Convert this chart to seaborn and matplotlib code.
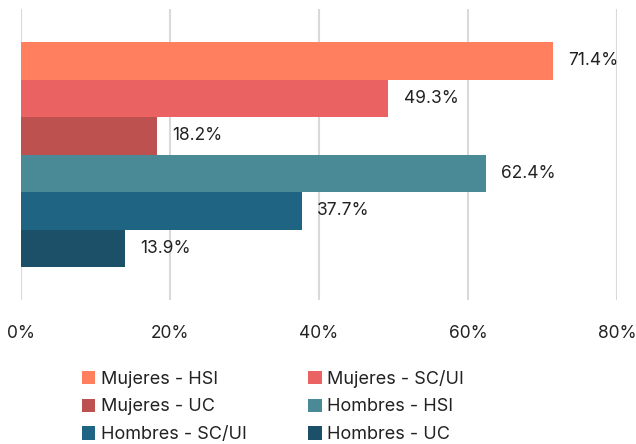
import pandas as pd
import matplotlib.pyplot as plt
import seaborn as sns

# datos
series = ['Mujeres - HSI', 'Mujeres - SC/UI', 'Mujeres - UC',
          'Hombres - HSI', 'Hombres - SC/UI', 'Hombres - UC']
valores = [71.4, 49.3, 18.2, 62.4, 37.7, 13.9]
colores = ['#FF7F5F', '#EB6262', '#BC5150', '#4A8A96', '#1F6482', '#1C5069']
ticks = [0, 20, 40, 60, 80]

df = pd.DataFrame({'grupo': ['total'] * len(series), 'serie': series, 'valor': valores})

sns.set_style('white')
plt.rcParams['font.family'] = ['Inter', 'DejaVu Sans']

fig = plt.figure(figsize=(6.36, 4.44), dpi=100)
ax = fig.add_axes([0.033, 0.324, 0.937, 0.655])

sns.barplot(data=df, x='valor', y='grupo', hue='serie', hue_order=series,
            palette=colores, orient='h', width=0.8, gap=0, saturation=1,
            linewidth=0, edgecolor='none', legend=True, ax=ax)

for cont in ax.containers:
    ax.bar_label(cont, fmt='%.1f%%', padding=11, fontsize=12.5, color='#222222')

ax.set_xlim(0, 80)
ax.set_ylim(0.517, -0.517)
ax.set_xticks(ticks)
ax.set_xticklabels([f'{t}%' for t in ticks], fontsize=12.5, color='#222222')
ax.tick_params(axis='x', length=0, pad=18)
ax.set_yticks([])
ax.set_xlabel('')
ax.set_ylabel('')
ax.grid(axis='x', color='#D9D9D9', linewidth=1.5)
ax.set_axisbelow(True)
for s in ax.spines.values():
    s.set_visible(False)

handles, labels = ax.get_legend_handles_labels()
ax.get_legend().remove()
orden = [0, 2, 4, 1, 3, 5]
fig.legend([handles[i] for i in orden], [labels[i] for i in orden], ncol=2,
           loc='lower left', bbox_to_anchor=(0.103, -0.035),
           frameon=False, fontsize=13, handlelength=0.75, handleheight=0.75,
           handletextpad=0.3, columnspacing=3.4, labelspacing=0.6,
           labelcolor='#222222')

fig.savefig('out.png', dpi=100)
